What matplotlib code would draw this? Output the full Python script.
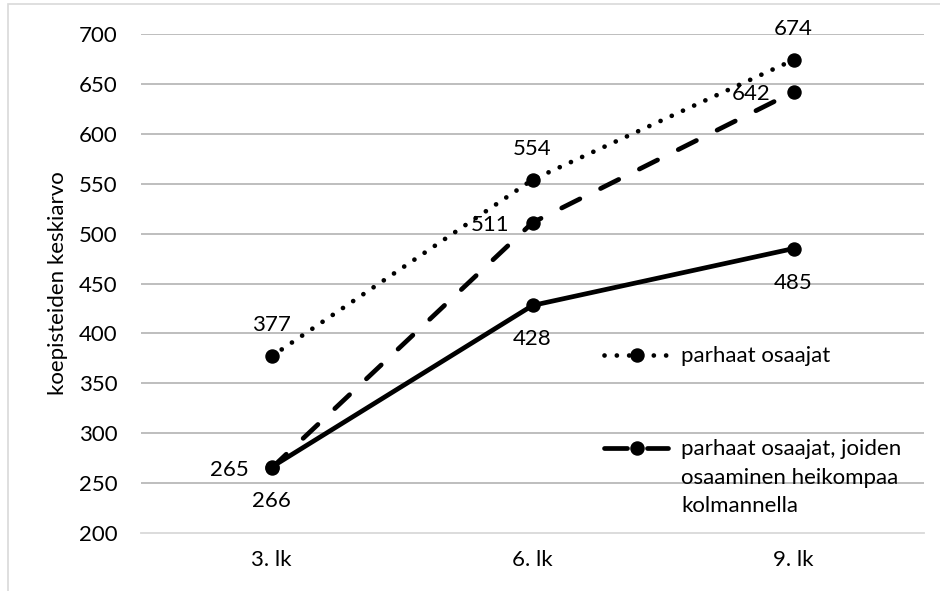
import matplotlib
matplotlib.use("Agg")
import matplotlib.pyplot as plt
from matplotlib.lines import Line2D
from matplotlib.patches import Rectangle

grades = ['3. lk', '6. lk', '9. lk']
parhaat = [377, 554, 674]
heikompi_3lk = [265, 511, 642]
muut = [266, 428, 485]

legend_labels = ['parhaat osaajat',
                 ['parhaat osaajat, joiden', 'osaaminen heikompaa', 'kolmannella']]

y_ticks = [200, 250, 300, 350, 400, 450, 500, 550, 600, 650, 700]

W, H = 940, 591
FONT = 'Lato'
FS = 16

plt.rcParams['font.family'] = [FONT, 'DejaVu Sans']


def fx(x):
    return x / W


def fy(y):
    return 1 - y / H


fig = plt.figure(figsize=(W / 100, H / 100), dpi=100)
fig.patch.set_facecolor('white')

# outer chart border
fig.add_artist(Rectangle((fx(8), fy(H + 20)), 1.2, fy(4) - fy(H + 20),
                         transform=fig.transFigure, fill=False,
                         edgecolor='#d9d9d9', linewidth=1.2))

ax = fig.add_axes([fx(141), fy(533), fx(924) - fx(141), fy(34) - fy(533)])
ax.set_xlim(-0.5, 2.5)
ax.set_ylim(200, 700)
ax.set_yticks(y_ticks)
ax.set_xticks(range(len(grades)))
ax.set_xticklabels(grades)
for s in ['top', 'right', 'left']:
    ax.spines[s].set_visible(False)
ax.spines['bottom'].set_color('#d9d9d9')
ax.spines['bottom'].set_linewidth(1.3)
ax.tick_params(axis='both', length=0, labelsize=FS, colors='black')
ax.tick_params(axis='y', pad=17)
ax.tick_params(axis='x', pad=12)
ax.yaxis.grid(True, color='#acacac', linewidth=1.1)
ax.set_axisbelow(True)
# keep the 200 line as the lighter axis line
ax.get_ygridlines()[0].set_visible(False)

lw = 3.4
ms = 9.4
x = list(range(len(grades)))

ax.plot(x, muut, color='black', lw=lw, marker='o', ms=ms,
        solid_capstyle='round', zorder=3)
ax.plot(x, heikompi_3lk, color='black', lw=lw, marker='o', ms=ms,
        linestyle=(0, (4.3, 4.9)), dash_capstyle='round', zorder=3)
ax.plot(x, parhaat, color='black', lw=lw, marker='o', ms=ms,
        linestyle=(0, (0.01, 2.6)), dash_capstyle='round', zorder=3)

# data labels: dotted above, dashed to the left, solid below
for xi, v in zip(x, parhaat):
    ax.annotate(str(v), (xi, v), xytext=(0, 31), textcoords='offset pixels',
                ha='center', va='center', fontsize=FS, zorder=4)
for xi, v in zip(x, heikompi_3lk):
    ax.annotate(str(v), (xi, v), xytext=(-23, -2), textcoords='offset pixels',
                ha='right', va='center', fontsize=FS, zorder=4)
for xi, v in zip(x, muut):
    ax.annotate(str(v), (xi, v), xytext=(0, -34), textcoords='offset pixels',
                ha='center', va='center', fontsize=FS, zorder=4)

fig.text(fx(58), fy(283), 'koepisteiden keskiarvo', rotation=90,
         ha='center', va='center', fontsize=FS)

# legend, drawn by hand so the handle sits on the first text line
fig.add_artist(Line2D([fx(604), fx(668)], [fy(355), fy(355)],
                      transform=fig.transFigure, color='black', lw=lw,
                      linestyle=(0, (0.01, 2.6)), dash_capstyle='round'))
fig.add_artist(Line2D([fx(637)], [fy(355)], transform=fig.transFigure,
                      color='black', marker='o', ms=ms, lw=0))
fig.text(fx(681), fy(362), legend_labels[0], ha='left', va='baseline',
         fontsize=FS)

fig.add_artist(Line2D([fx(604), fx(627)], [fy(448), fy(448)],
                      transform=fig.transFigure, color='black', lw=lw,
                      solid_capstyle='round'))
fig.add_artist(Line2D([fx(647), fx(668)], [fy(448), fy(448)],
                      transform=fig.transFigure, color='black', lw=lw,
                      solid_capstyle='round'))
fig.add_artist(Line2D([fx(637)], [fy(448)], transform=fig.transFigure,
                      color='black', marker='o', ms=ms, lw=0))
for i, line in enumerate(legend_labels[1]):
    fig.text(fx(681), fy(455 + 28.5 * i), line, ha='left', va='baseline',
             fontsize=FS)

fig.savefig('out.png', dpi=100, facecolor='white')
